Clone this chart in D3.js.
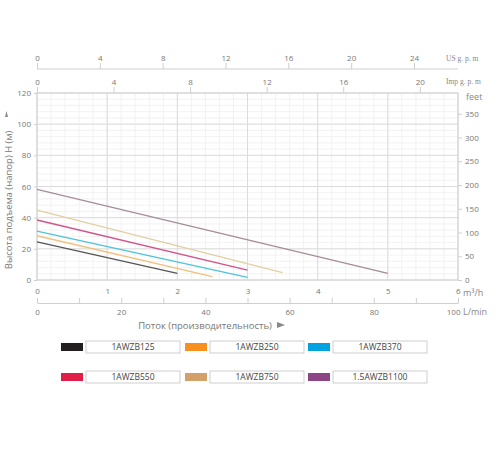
<!DOCTYPE html>
<html><head><meta charset="utf-8">
<script src="https://cdn.jsdelivr.net/npm/d3@7"></script>
<style>body{margin:0;background:#fff}svg{display:block}</style>
</head><body>
<svg id="c" width="500" height="450"></svg>
<script>
const models = ["1AWZB125","1AWZB250","1AWZB370","1AWZB550","1AWZB750","1.5AWZB1100"];
const legendColors = ["#231f20","#f7901e","#00a3e0","#e01e48","#d4a06a","#8e4585"];
const lineColors = ["#555555","#f2c07e","#4cc3dc","#d4528a","#e2cfa2","#a58c9c"];
// [flow m3/h, head m] start and end points
const curveFlow = [[0,2],[0,2.5],[0,3],[0,3],[0,3.5],[0,5]];
const curveHead = [[24.5,4.3],[28.4,2.1],[31.4,1.7],[38.5,6.4],[44.9,4.7],[58.2,4.3]];
const flowTicks = [0,1,2,3,4,5,6];
const headTicks = [0,20,40,60,80,100,120];
const feetTicks = [0,50,100,150,200,250,300,350];
const usTicks = [0,4,8,12,16,20,24];
const impTicks = [0,4,8,12,16,20];
const lminTicks = [0,20,40,60,80,100];

const svg = d3.select("#c");
const L=37,R=458,T=93,B=280;
const x = d3.scaleLinear().domain([0,6]).range([L,R]);
const y = d3.scaleLinear().domain([0,120]).range([B,T]);
const yFeet = d3.scaleLinear().domain([0,120*3.2808]).range([B,T]);
const xUS = d3.scaleLinear().domain([0,24]).range([L,414]);
const xImp = d3.scaleLinear().domain([0,6*3.6662]).range([L,R]);
const xL = d3.scaleLinear().domain([0,100]).range([L,R]);
const font = "'Open Sans', 'Noto Sans', sans-serif";
const tc = "#777";
const fmt = d3.format("d");

// grid
const g = svg.append("g");
g.selectAll(".vm").data(d3.range(0,6.001,0.2)).join("line")
  .attr("x1",d=>x(d)).attr("x2",d=>x(d)).attr("y1",T).attr("y2",B)
  .attr("stroke","#efefef").attr("stroke-width",0.8);
g.selectAll(".hm").data(d3.range(0,120.001,4)).join("line")
  .attr("y1",d=>y(d)).attr("y2",d=>y(d)).attr("x1",L).attr("x2",R)
  .attr("stroke","#efefef").attr("stroke-width",0.8);
g.selectAll(".vM").data(flowTicks).join("line")
  .attr("x1",d=>x(d)).attr("x2",d=>x(d)).attr("y1",T).attr("y2",B)
  .attr("stroke","#dcdcdc").attr("stroke-width",1);
g.selectAll(".hM").data(headTicks).join("line")
  .attr("y1",d=>y(d)).attr("y2",d=>y(d)).attr("x1",L).attr("x2",R)
  .attr("stroke","#dcdcdc").attr("stroke-width",1);
g.append("rect").attr("x",L).attr("y",T).attr("width",R-L).attr("height",B-T)
  .attr("fill","none").attr("stroke","#d4d4d4");

function styleAxis(sel){
  sel.select(".domain").attr("stroke","#cfcfcf");
  sel.selectAll(".tick line").attr("stroke","#cfcfcf");
  sel.selectAll("text").attr("fill",tc).attr("font-size",8).attr("font-family",font);
}
// left axis
svg.append("g").attr("transform",`translate(${L},0)`)
  .call(d3.axisLeft(y).tickValues(headTicks).tickFormat(fmt).tickSize(3).tickPadding(3))
  .call(s=>{styleAxis(s);s.select(".domain").remove();});
// right feet axis
svg.append("g").attr("transform",`translate(${R},0)`)
  .call(d3.axisRight(yFeet).tickValues(feetTicks).tickFormat(fmt).tickSize(4).tickPadding(3))
  .call(s=>{styleAxis(s);s.select(".domain").remove();});
// bottom m3/h
svg.append("g").attr("transform",`translate(0,${B})`)
  .call(d3.axisBottom(x).tickValues(flowTicks).tickFormat(fmt).tickSize(0).tickPadding(8))
  .call(s=>{styleAxis(s);s.select(".domain").remove();
    s.selectAll(".tick text").filter(d=>d===6).attr("text-anchor","end").attr("dx",2);});
// L/min axis
svg.append("g").attr("transform",`translate(0,303)`)
  .call(d3.axisTop(xL).tickValues(d3.range(0,101,10)).tickFormat(()=>"").tickSize(5).tickSizeOuter(0))
  .call(styleAxis);
svg.append("g").attr("transform",`translate(0,303)`)
  .call(d3.axisBottom(xL).tickValues(lminTicks).tickFormat(fmt).tickSize(0).tickPadding(6))
  .call(s=>{styleAxis(s);s.select(".domain").remove();
    s.selectAll(".tick text").filter(d=>d===100).attr("text-anchor","end").attr("dx",2);});
// US gpm axis
svg.append("g").attr("transform",`translate(0,69)`)
  .call(d3.axisTop(xUS).tickValues(usTicks).tickFormat(fmt).tickSize(6).tickSizeOuter(0).tickPadding(2))
  .call(styleAxis)
  .call(s=>s.select(".domain").attr("d",`M${L},0H${R}`));
// Imp gpm axis
svg.append("g").attr("transform",`translate(0,${T})`)
  .call(d3.axisTop(xImp).tickValues(impTicks).tickFormat(fmt).tickSize(6).tickPadding(2))
  .call(s=>{styleAxis(s);s.select(".domain").remove();});

// unit labels
const unit=(t,xx,yy,fam,fs)=>svg.append("text").attr("x",xx).attr("y",yy).text(t)
  .attr("fill","#888").attr("font-size",fs||8).attr("font-family",fam||font);
unit("US  g. p. m",446,61,"'Liberation Serif', serif",7.5);
unit("Imp  g. p. m",446,84,"'Liberation Serif', serif",7.5);
unit("feet",466,100,font,9);
unit("m³/h",463,296,font,9);
unit("L/min",463,315,font,9);

// axis titles
svg.append("text").attr("transform","translate(12,200) rotate(-90)")
  .attr("text-anchor","middle").attr("font-size",9.5).attr("font-family",font)
  .attr("fill","#777").text("Высота подъема (напор) H (м)");
svg.append("path").attr("d","M8,117 L5,117 L6.5,111 Z").attr("fill","#888");
svg.append("text").attr("x",205).attr("y",329).attr("text-anchor","middle")
  .attr("font-size",9.5).attr("font-family",font).attr("fill","#777")
  .text("Поток (производительность)");
svg.append("path").attr("d","M277,322 L285,325 L277,328 Z").attr("fill","#888");

// curves
const line = d3.line().x(d=>x(d[0])).y(d=>y(d[1]));
svg.append("g").selectAll("path").data(models).join("path")
  .attr("d",(m,i)=>line(curveFlow[i].map((f,j)=>[f,curveHead[i][j]])))
  .attr("fill","none").attr("stroke",(m,i)=>lineColors[i]).attr("stroke-width",1.3);

// legend
const lg = svg.append("g");
const colX=[61,185,308], rowY=[347,377];
models.forEach((m,i)=>{
  const cx=colX[i%3], cy=rowY[Math.floor(i/3)];
  lg.append("rect").attr("x",cx).attr("y",cy-4).attr("width",22).attr("height",8).attr("fill",legendColors[i]);
  lg.append("rect").attr("x",cx+25).attr("y",cy-6).attr("width",94).attr("height",12)
    .attr("fill","#fff").attr("stroke","#c4c4c4").attr("stroke-width",0.8);
  lg.append("text").attr("x",cx+72).attr("y",cy+3).attr("text-anchor","middle")
    .attr("font-size",8.5).attr("font-family",font).attr("fill","#444").text(m);
});
</script>
</body></html>
